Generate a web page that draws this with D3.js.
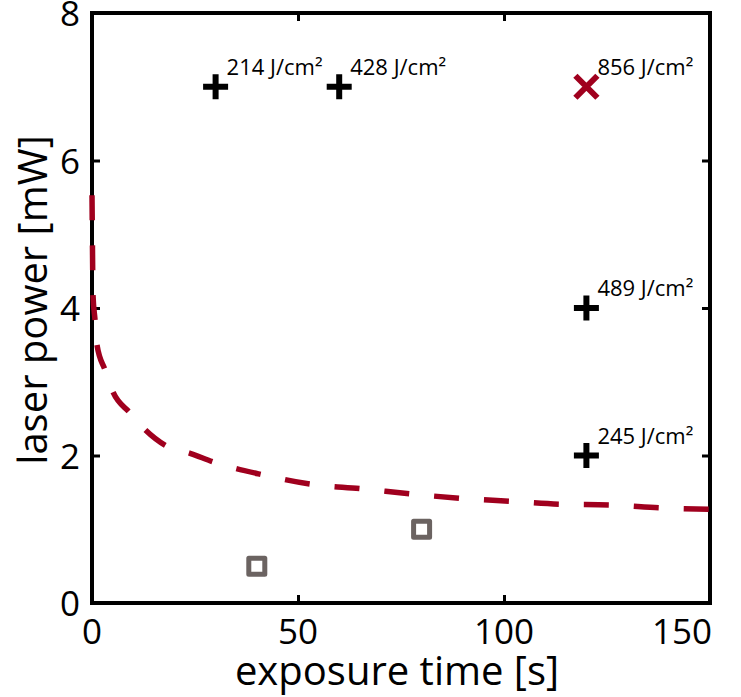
<!DOCTYPE html>
<html>
<head>
<meta charset="utf-8">
<script src="https://cdn.jsdelivr.net/npm/d3@7"></script>
<style>
  html, body { margin: 0; padding: 0; background: #fff; }
  svg { display: block; }
  text { font-family: "Open Sans", "Noto Sans", sans-serif; fill: #000; }
</style>
</head>
<body>
<svg id="chart" width="741" height="697"></svg>
<script>
// ---- data ----
const xTicks = [0, 50, 100, 150];
const yTicks = [0, 2, 4, 6, 8];
const xTitle = "exposure time [s]";
const yTitle = "laser power [mW]";

// threshold curve (dashed red)
const curveT = [0, 0.12, 0.24, 0.73, 1.21, 3.16, 5.1, 9.2, 12.9, 18.4, 23.8, 29.6, 41.3, 53.2, 65.3, 77.2, 89.3, 101.5, 113.6, 125.7, 137.9, 150];
const curveP = [5.53, 4.79, 4.18, 3.84, 3.50, 3.16, 2.86, 2.58, 2.35, 2.12, 2.03, 1.91, 1.74, 1.61, 1.55, 1.48, 1.42, 1.38, 1.34, 1.33, 1.29, 1.27];

// plus markers (black) with fluence labels
const plusT = [30, 60, 120, 120];
const plusP = [7, 7, 4, 2];
const plusLabels = ["214 J/cm²", "428 J/cm²", "489 J/cm²", "245 J/cm²"];

// cross marker (red)
const crossT = [120];
const crossP = [7];
const crossLabels = ["856 J/cm²"];

// square markers (gray)
const squareT = [40, 80];
const squareP = [0.5, 1];

// ---- chart ----
const svg = d3.select("#chart");
const mLeft = 92, mRight = 710, mTop = 13, mBottom = 603;
const x = d3.scaleLinear().domain([0, 150]).range([mLeft, mRight]);
const y = d3.scaleLinear().domain([0, 8]).range([mBottom, mTop]);

const red = "#a0001e";
const gray = "#6b6361";

// tick marks (inward on all sides)
const tickLen = 8;
const axisB = svg.append("g").attr("transform", `translate(0,${mBottom})`)
  .call(d3.axisTop(x).tickValues(xTicks).tickSize(tickLen).tickFormat(""));
const axisT = svg.append("g").attr("transform", `translate(0,${mTop})`)
  .call(d3.axisBottom(x).tickValues(xTicks).tickSize(tickLen).tickFormat(""));
const axisL = svg.append("g").attr("transform", `translate(${mLeft},0)`)
  .call(d3.axisRight(y).tickValues(yTicks).tickSize(tickLen).tickFormat(""));
const axisR = svg.append("g").attr("transform", `translate(${mRight},0)`)
  .call(d3.axisLeft(y).tickValues(yTicks).tickSize(tickLen).tickFormat(""));
[axisB, axisT, axisL, axisR].forEach(a => {
  a.select(".domain").remove();
  a.selectAll(".tick line").attr("stroke", "#000").attr("stroke-width", 3);
});

// frame
svg.append("rect")
  .attr("x", mLeft).attr("y", mTop)
  .attr("width", mRight - mLeft).attr("height", mBottom - mTop)
  .attr("fill", "none").attr("stroke", "#000").attr("stroke-width", 4);

// tick labels
svg.append("g").selectAll("text").data(xTicks).join("text")
  .attr("x", (d, i) => i === xTicks.length - 1 ? x(d) + 2 : x(d))
  .attr("y", mBottom + 41)
  .attr("text-anchor", (d, i) => i === xTicks.length - 1 ? "end" : "middle")
  .attr("font-size", 35)
  .text(d => d);
svg.append("g").selectAll("text").data(yTicks).join("text")
  .attr("x", mLeft - 12)
  .attr("y", d => y(d) + 13)
  .attr("text-anchor", "end")
  .attr("font-size", 35)
  .text(d => d);

// axis titles
svg.append("text")
  .attr("x", (mLeft + mRight) / 2 - 4).attr("y", 685)
  .attr("text-anchor", "middle").attr("font-size", 40)
  .text(xTitle);
svg.append("text")
  .attr("transform", `translate(47,${(mTop + mBottom) / 2 - 8}) rotate(-90)`)
  .attr("text-anchor", "middle").attr("font-size", 40)
  .text(yTitle);

// squares
svg.append("g").selectAll("rect").data(squareT.map((t, i) => [t, squareP[i]])).join("rect")
  .attr("x", d => x(d[0]) - 8).attr("y", d => y(d[1]) - 8)
  .attr("width", 16).attr("height", 16)
  .attr("fill", "#fff").attr("stroke", gray).attr("stroke-width", 5)
  .attr("stroke-linejoin", "round");

// dashed curve
const line = d3.line()
  .x((d, i) => x(curveT[i]))
  .y((d, i) => y(curveP[i]))
  .curve(d3.curveMonotoneX);
svg.append("path")
  .attr("d", line(curveT))
  .attr("fill", "none").attr("stroke", red)
  .attr("stroke-width", 5.5)
  .attr("stroke-dasharray", "25,25");

// plus markers
const ph = 12.5;
const plusData = plusT.map((t, i) => ({ t, p: plusP[i], label: plusLabels[i] }));
svg.append("g").selectAll("path").data(plusData).join("path")
  .attr("d", d => {
    const cx = x(d.t), cy = y(d.p);
    return `M${cx - ph},${cy}H${cx + ph}M${cx},${cy - ph}V${cy + ph}`;
  })
  .attr("stroke", "#000").attr("stroke-width", 6).attr("fill", "none");

// cross markers
const ch = 11;
const crossData = crossT.map((t, i) => ({ t, p: crossP[i], label: crossLabels[i] }));
svg.append("g").selectAll("path").data(crossData).join("path")
  .attr("d", d => {
    const cx = x(d.t), cy = y(d.p);
    return `M${cx - ch},${cy - ch}L${cx + ch},${cy + ch}M${cx - ch},${cy + ch}L${cx + ch},${cy - ch}`;
  })
  .attr("stroke", red).attr("stroke-width", 6).attr("fill", "none");

// labels
svg.append("g").selectAll("text").data(plusData.concat(crossData)).join("text")
  .attr("x", d => x(d.t) + 11)
  .attr("y", d => y(d.p) - 12)
  .attr("font-size", 22)
  .text(d => d.label);
</script>
</body>
</html>
